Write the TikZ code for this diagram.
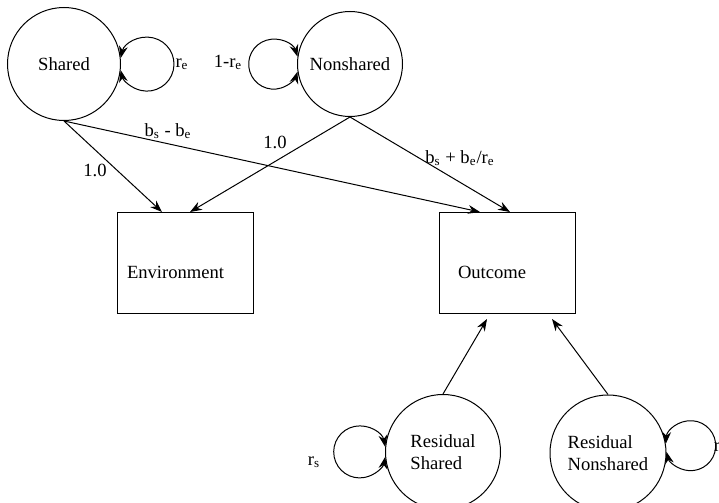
\documentclass[tikz,border=0pt]{standalone}
\usepackage{fontspec}
\setmainfont{Liberation Serif}
\usetikzlibrary{arrows.meta,positioning}

\begin{document}
\begin{tikzpicture}[x=0.5pt,y=-0.5pt,line width=0.5pt,
font=\fontsize{9.3}{11}\selectfont,
>={Stealth[length=6pt,width=4.4pt]},
latent/.style={circle,draw,inner sep=0pt,align=left},
manifest/.style={rectangle,draw,minimum width=68pt,minimum height=50.5pt,
text height=15.5pt,text depth=0pt,align=left}]
\useasboundingbox (0,0) rectangle (719,503);
\node[latent,minimum size=56.5pt] (Sh) at (64,64) {Shared};
\node[latent,minimum size=52.5pt] (Ns) at (350,64) {Nonshared};
\node[manifest,inner xsep=5pt,text width=58pt] (Env) at (185,263) {Environment};
\node[manifest,inner xsep=9.5pt,text width=49pt] (Out) at (507,263) {Outcome};
\node[latent,minimum size=57.5pt] (RSh) at (443,452) {Residual\\Shared};
\node[latent,minimum size=58pt] (RNs) at (608,453) {Residual\\Nonshared};
\node (lSh) at (182,64) {r\textsubscript{e}};
\node (lNs) at (228,62) {1-r\textsubscript{e}};
\node (lRSh) at (314,462) {r\textsubscript{s}};
\node (lRNs) at (717,447) {r};
\node (lA) at (95,170) {1.0};
\node (lB) at (168,131) {b\textsubscript{s} - b\textsubscript{e}};
\node (lC) at (275,142) {1.0};
\node (lD) at (460,158) {b\textsubscript{s} + b\textsubscript{e}/r\textsubscript{e}};
\draw[->] (Sh.south) -- ([xshift=-11.5pt]Env.north);
\draw[->] (Ns.south) -- ([xshift=2.5pt]Env.north);
\draw[->] (Sh.south) -- ([xshift=-13.5pt]Out.north);
\draw[->] (Ns.south) -- ([xshift=1.5pt]Out.north);
\draw[->] (RSh.north) -- ([xshift=-10pt,yshift=-2.5pt]Out.south);
\draw[->] (RNs.north) -- ([xshift=22.5pt,yshift=-2.5pt]Out.south);
\draw[<->] (Sh.6) arc[start angle=167,end angle=-167,radius=13.5pt];
\draw[<->] (Ns.172) arc[start angle=17.5,end angle=342.5,radius=12.5pt];
\draw[<->] (RSh.175) arc[start angle=11,end angle=349,radius=13pt];
\draw[<->] (RNs.9) arc[start angle=175.8,end angle=-165.8,radius=12.5pt];
\end{tikzpicture}
\end{document}
